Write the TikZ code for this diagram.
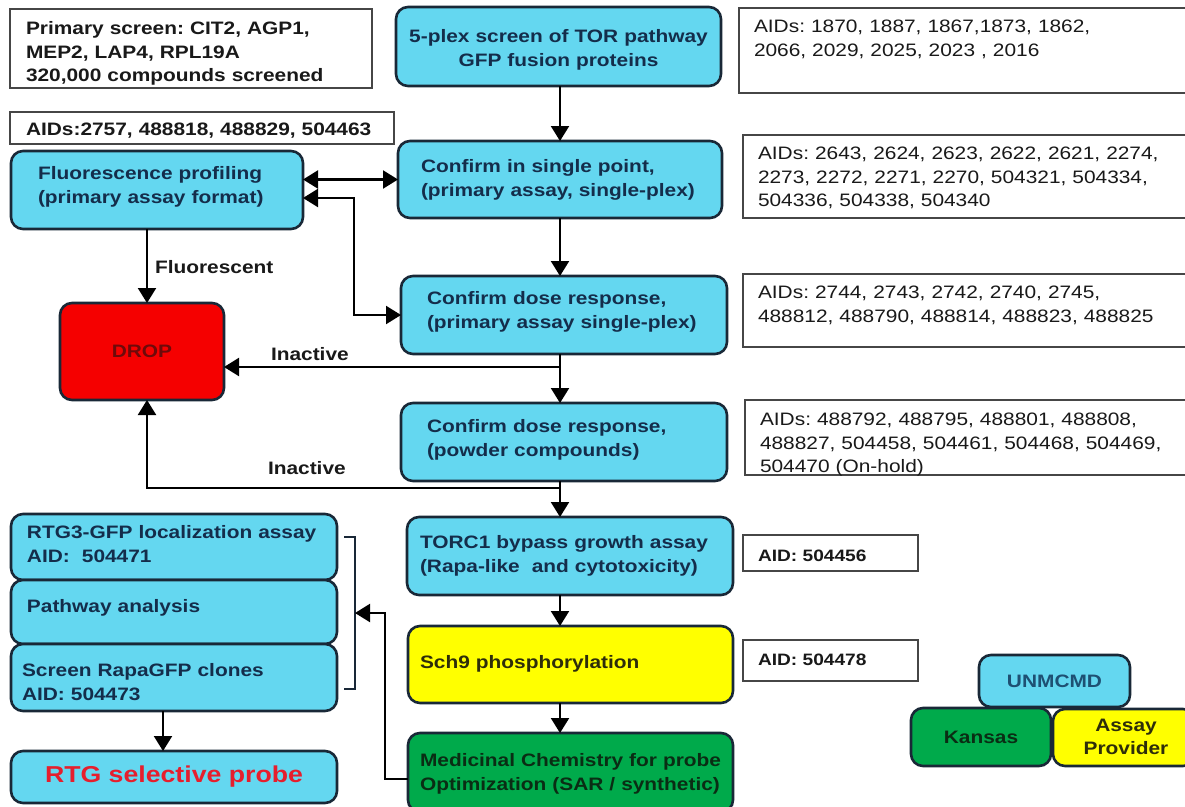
\documentclass[tikz,border=0pt]{standalone}
\usepackage{fontspec}
\setmainfont{Liberation Sans}[FakeStretch=1.16]
\usetikzlibrary{arrows.meta,calc}
\frenchspacing
\definecolor{cyanfill}{RGB}{100,215,240}
\definecolor{edgecol}{RGB}{25,40,55}
\definecolor{navytxt}{RGB}{20,45,75}
\definecolor{dropred}{RGB}{245,0,0}
\definecolor{droptxt}{RGB}{110,10,10}
\definecolor{yel}{RGB}{255,255,0}
\definecolor{grn}{RGB}{0,170,75}
\definecolor{grntxt}{RGB}{10,45,20}
\definecolor{yeltxt}{RGB}{45,45,10}
\definecolor{notecol}{RGB}{70,70,70}
\definecolor{notetxt}{RGB}{25,25,25}
\definecolor{probered}{RGB}{230,30,45}
\definecolor{unmtxt}{RGB}{30,80,115}
\begin{document}
\frenchspacing
\begin{tikzpicture}[x=1pt,y=-1pt,
  every node/.style={inner sep=0pt, outer sep=0pt},
  boxfont/.style={font=\fontsize{18pt}{23.5pt}\selectfont\bfseries\frenchspacing},
  plainfont/.style={font=\fontsize{18pt}{23.5pt}\selectfont\frenchspacing},
  smallfont/.style={font=\fontsize{16.5pt}{20pt}\selectfont\bfseries\frenchspacing},
  proc/.style={draw=edgecol, line width=2.6pt, rounded corners=12pt, fill=cyanfill},
  redbox/.style={proc, fill=dropred},
  yelbox/.style={proc, fill=yel},
  grnbox/.style={proc, fill=grn},
  note/.style={draw=notecol, line width=1.5pt, fill=white},
  txt/.style={boxfont, anchor=base west, align=left, text=navytxt},
  notet/.style={boxfont, anchor=base west, align=left, text=notetxt},
  aidt/.style={plainfont, anchor=base west, align=left, text=notetxt},
  lbl/.style={boxfont, anchor=base west, text=notetxt},
  conn/.style={line width=2.2pt, draw=black, -{Triangle[width=18pt,length=15pt]}},
  dconn/.style={line width=2.2pt, draw=black, {Triangle[width=18pt,length=15pt]}-{Triangle[width=18pt,length=15pt]}},
  brk/.style={line width=1.6pt, draw=edgecol}
]
\useasboundingbox (0,0) rectangle (1185,806);
\fill[white] (0,0) rectangle (1185,806);
\clip (0,0) rectangle (1185,806);

% ---------- note boxes ----------
\node[note, minimum width=362, minimum height=79] (note1) at (191,48.5) {};
\node[notet, text width=340] (note1t) at (26,34.5) {Primary screen: CIT2, AGP1,\\MEP2, LAP4, RPL19A\\320,000 compounds screened};
\node[note, minimum width=384, minimum height=32] (note2) at (202,128) {};
\node[notet, text width=364] (note2t) at (26,135.5) {AIDs:2757, 488818, 488829, 504463};

\node[note, minimum width=456, minimum height=85] (aid1) at (967,50.5) {};
\node[aidt, text width=420] (aid1t) at (754,32.5) {AIDs: 1870, 1887, 1867,1873, 1862,\\2066, 2029, 2025, 2023 , 2016};
\node[note, minimum width=452, minimum height=83] (aid2) at (969,176.5) {};
\node[aidt, text width=420] (aid2t) at (758,159.5) {AIDs: 2643, 2624, 2623, 2622, 2621, 2274,\\2273, 2272, 2271, 2270, 504321, 504334,\\504336, 504338, 504340};
\node[note, minimum width=452, minimum height=73] (aid3) at (969,310.5) {};
\node[aidt, text width=420] (aid3t) at (758,298.5) {AIDs: 2744, 2743, 2742, 2740, 2745,\\488812, 488790, 488814, 488823, 488825};
\node[note, minimum width=450, minimum height=75] (aid4) at (970,437.5) {};
\node[aidt, text width=420] (aid4t) at (760,425.5) {AIDs: 488792, 488795, 488801, 488808,\\488827, 504458, 504461, 504468, 504469,\\504470 (On-hold)};
\node[note, minimum width=175, minimum height=36] (aid5) at (830.5,553) {};
\node[smallfont, anchor=base west, text=notetxt] (aid5t) at (758,561) {AID: 504456};
\node[note, minimum width=175, minimum height=41] (aid6) at (830.5,660.5) {};
\node[smallfont, anchor=base west, text=notetxt] (aid6t) at (758,665.5) {AID: 504478};

% ---------- main column ----------
\node[proc, minimum width=325, minimum height=79] (plex) at (558.5,46.5) {};
\node[txt, anchor=base, align=center, text width=315] (plext) at (558.5,42.5) {5-plex screen of TOR pathway\\GFP fusion proteins};
\node[proc, minimum width=324, minimum height=77] (single) at (560,179.5) {};
\node[txt, text width=298] (singlet) at (421,172.5) {Confirm in single point,\\(primary assay, single-plex)};
\node[proc, minimum width=326, minimum height=78] (dose1) at (564,315) {};
\node[txt, text width=298] (dose1t) at (427,304.5) {Confirm dose response,\\(primary assay single-plex)};
\node[proc, minimum width=326, minimum height=78] (dose2) at (564,442) {};
\node[txt, text width=298] (dose2t) at (427,432.5) {Confirm dose response,\\(powder compounds)};
\node[proc, minimum width=326, minimum height=78] (torc) at (570,556) {};
\node[txt, text width=311] (torct) at (420,548.5) {TORC1 bypass growth assay\\(Rapa-like\ \ and cytotoxicity)};
\node[yelbox, minimum width=325, minimum height=77] (sch9) at (570.5,664.5) {};
\node[txt, text width=311, text=yeltxt] (sch9t) at (420,668.5) {Sch9 phosphorylation};
\node[grnbox, minimum width=325, minimum height=79] (med) at (570.5,772.5) {};
\node[txt, text width=312, text=grntxt] (medt) at (420,766.5) {Medicinal Chemistry for probe\\Optimization (SAR / synthetic)};

% ---------- left column ----------
\node[proc, minimum width=292, minimum height=78] (fluor) at (157,190) {};
\node[txt, text width=262] (fluort) at (38,179.5) {Fluorescence profiling\\(primary assay format)};
\node[redbox, minimum width=164, minimum height=97, boxfont, text=droptxt] (drop) at (142,351.5) {DROP};

\node[proc, minimum width=326, minimum height=66] (rtg3) at (174,547) {};
\node[txt, text width=308] (rtg3t) at (27,538.5) {RTG3-GFP localization assay\\AID:\ \ 504471};
\node[proc, minimum width=326, minimum height=64] (path) at (174,612) {};
\node[txt, text width=308] (patht) at (27,612.5) {Pathway analysis};
\node[proc, minimum width=326, minimum height=67] (scr) at (174,677.5) {};
\node[txt, text width=312] (scrt) at (22,676.5) {Screen RapaGFP clones\\AID: 504473};
\node[proc, minimum width=326, minimum height=52, font=\fontsize{23pt}{27pt}\selectfont\bfseries, text=probered] (probe) at (174,777) {RTG selective probe};

% ---------- legend ----------
\node[proc, minimum width=151, minimum height=52, boxfont, text=unmtxt] (unm) at (1054.5,681) {UNMCMD};
\node[grnbox, minimum width=140, minimum height=58, boxfont, text=grntxt] (kan) at (981,737) {Kansas};
\node[yelbox, minimum width=142, minimum height=57] (prov) at (1124,737.5) {};
\node[boxfont, align=center, text=yeltxt] (provt) at (1126,737) {Assay\\Provider};

% ---------- connectors ----------
\coordinate (tx) at (560,0);
\draw[conn] (plex.south -| tx) -- (single.north -| tx);
\draw[conn] (single.south -| tx) -- (dose1.north -| tx);
\draw[conn] (dose1.south -| tx) -- (dose2.north -| tx);
\draw[conn] (dose2.south -| tx) -- (torc.north -| tx);
\draw[conn] (torc.south -| tx) -- (sch9.north -| tx);
\draw[conn] (sch9.south -| tx) -- (med.north -| tx);

\coordinate (b1) at (560,367);
\draw[conn] (b1) -- (b1 -| drop.east);
\coordinate (b2) at (560,488);
\coordinate (dx) at (147,0);
\draw[conn] (b2) -| (dx |- drop.south);
\draw[conn] (dx |- fluor.south) -- (dx |- drop.north);

\draw[dconn] (single.west) -- (single.west -| fluor.east);
\coordinate (k) at (354,198);
\draw[dconn] (k -| fluor.east) -- (k) |- (dose1.west);

\draw[brk] (344,537) -- (355,537) -- (355,689) -- (344,689);
\coordinate (brkmid) at (355,613);
\coordinate (fb) at (385,779);
\draw[conn] (fb -| med.west) -- (fb) |- (brkmid);

\coordinate (sx) at (163,0);
\draw[conn] (sx |- scr.south) -- (sx |- probe.north);

% ---------- labels ----------
\node[lbl] (lfluo) at (155,273.5) {Fluorescent};
\node[lbl] (lin1) at (271,360.5) {Inactive};
\node[lbl] (lin2) at (268,474.5) {Inactive};
\end{tikzpicture}
\end{document}
